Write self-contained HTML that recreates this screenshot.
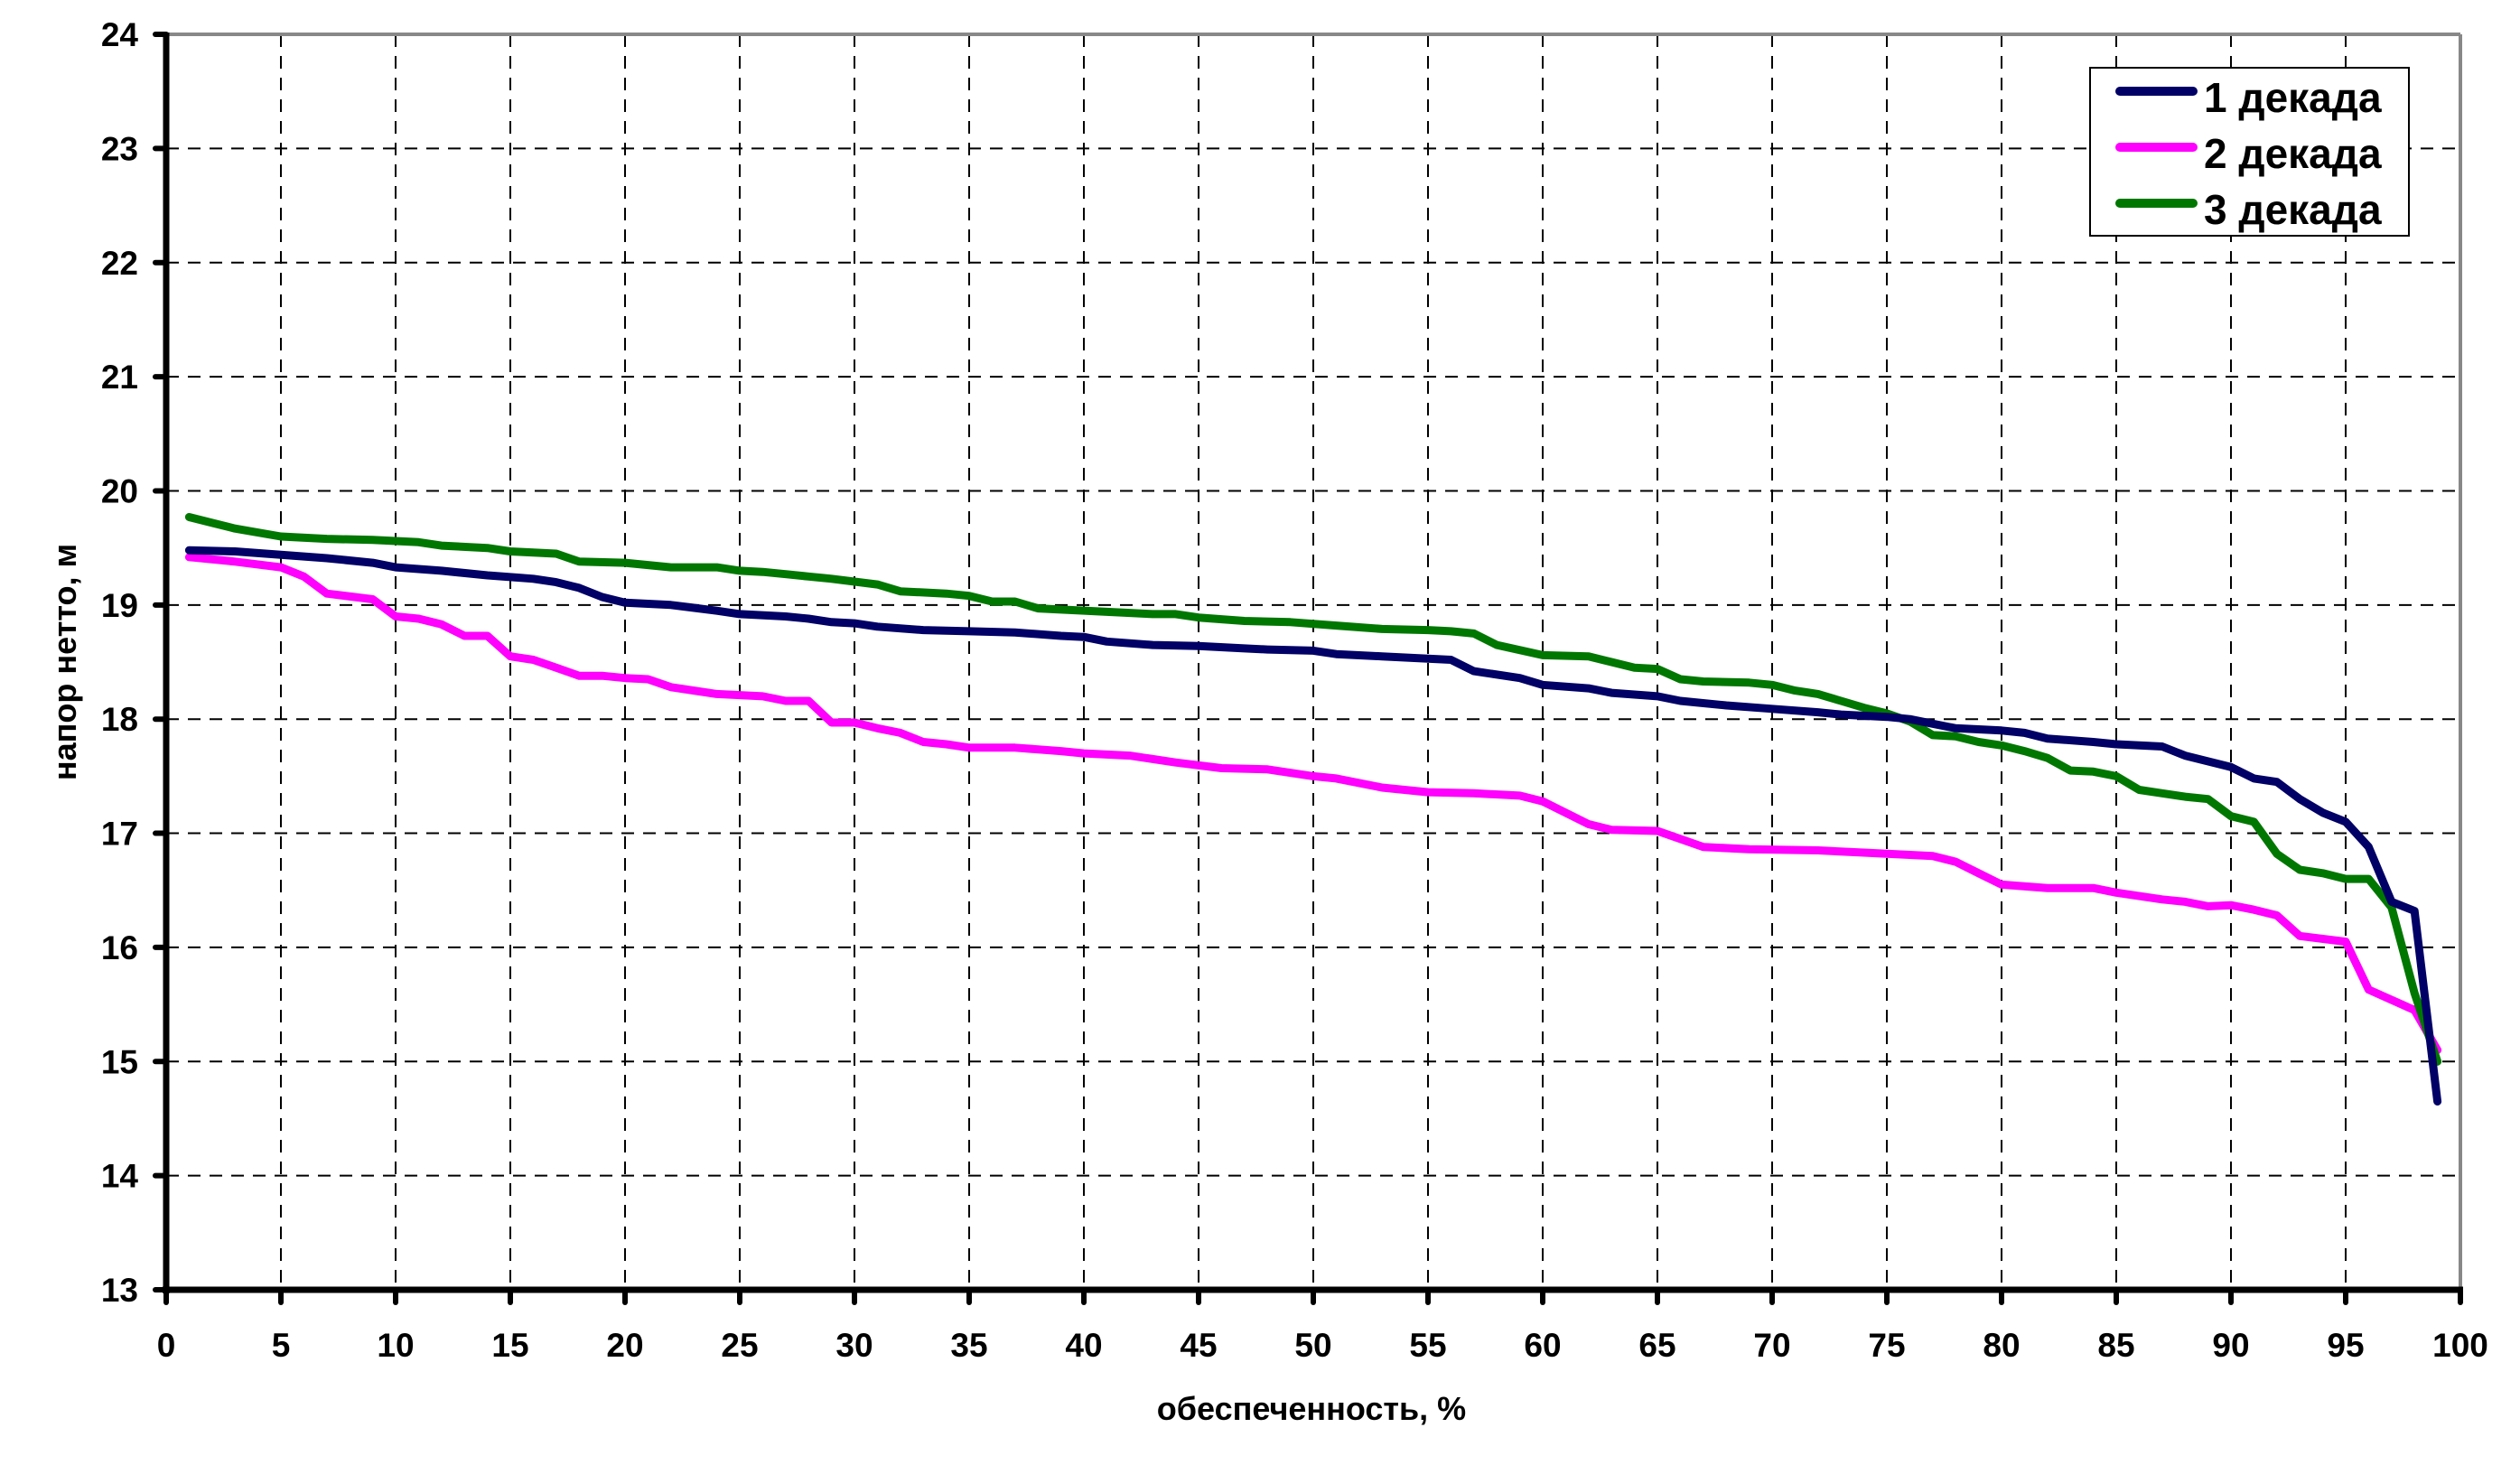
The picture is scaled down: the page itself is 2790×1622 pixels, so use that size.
<!DOCTYPE html>
<html><head><meta charset="utf-8"><style>
html,body{margin:0;padding:0;background:#fff;width:2790px;height:1622px;overflow:hidden}
text{font-family:"Liberation Sans",Arial,sans-serif;font-weight:bold;fill:#000}
</style></head><body>
<svg id="s" width="2790" height="1622" xmlns="http://www.w3.org/2000/svg">
<g id="grid"></g>
<line x1="184" y1="38" x2="2724" y2="38" stroke="#888" stroke-width="4"/>
<line x1="2724" y1="38" x2="2724" y2="1428" stroke="#888" stroke-width="4"/>
<g id="series" fill="none" stroke-width="9" stroke-linejoin="round" stroke-linecap="round"></g>
<line x1="184" y1="36" x2="184" y2="1432" stroke="#000" stroke-width="7"/>
<line x1="180" y1="1428" x2="2727" y2="1428" stroke="#000" stroke-width="7"/>
<g id="ticks"></g>
<rect x="2314" y="75" width="353" height="186" fill="#fff" stroke="#000" stroke-width="2"/>
<line x1="2347" y1="101" x2="2428" y2="101" stroke="#000066" stroke-width="10" stroke-linecap="round"/>
<line x1="2347" y1="163" x2="2428" y2="163" stroke="#ff00ff" stroke-width="10" stroke-linecap="round"/>
<line x1="2347" y1="225" x2="2428" y2="225" stroke="#007700" stroke-width="10" stroke-linecap="round"/>
<text x="2440" y="124" font-size="46">1 декада</text>
<text x="2440" y="186" font-size="46">2 декада</text>
<text x="2440" y="248" font-size="46">3 декада</text>
<text x="1452" y="1572" font-size="36" text-anchor="middle">обеспеченность, %</text>
<text transform="translate(84,733) rotate(-90)" font-size="36" text-anchor="middle">напор нетто, м</text>
</svg>
<script>
var X=function(v){return 184+v*25.4}, Y=function(v){return 1428-(v-13)*126.36};
var ns="http://www.w3.org/2000/svg";
function el(p,t,a,txt){var e=document.createElementNS(ns,t);for(var k in a)e.setAttribute(k,a[k]);if(txt!=null)e.textContent=txt;p.appendChild(e);return e}
var g=document.getElementById('grid'),tk=document.getElementById('ticks');
for(var i=5;i<100;i+=5)el(g,'line',{x1:X(i),y1:38,x2:X(i),y2:1428,stroke:'#000','stroke-width':2,'stroke-dasharray':'14 10'});
for(var v=14;v<24;v++)el(g,'line',{x1:184,y1:Y(v),x2:2724,y2:Y(v),stroke:'#000','stroke-width':2,'stroke-dasharray':'14 10'});
for(var i=0;i<=100;i+=5){el(tk,'line',{x1:X(i),y1:1428,x2:X(i),y2:1442,stroke:'#000','stroke-width':6,'stroke-linecap':'round'});
el(tk,'text',{x:X(i),y:1502,'font-size':37,'text-anchor':'middle'},String(i));}
for(var v=13;v<=24;v++){el(tk,'line',{x1:172,y1:Y(v),x2:184,y2:Y(v),stroke:'#000','stroke-width':6,'stroke-linecap':'round'});
el(tk,'text',{x:153,y:Y(v)+13,'font-size':37,'text-anchor':'end'},String(v));}
var s1=[1,19.48,3,19.47,5,19.44,7,19.41,9,19.37,10,19.33,12,19.3,14,19.26,16,19.23,17,19.2,18,19.15,19,19.07,20,19.02,22,19.0,24,18.95,25,18.92,27,18.9,28,18.88,29,18.85,30,18.84,31,18.81,33,18.78,35,18.77,37,18.76,39,18.73,40,18.72,41,18.68,43,18.65,45,18.64,47,18.62,48,18.61,50,18.6,51,18.57,53,18.55,55,18.53,56,18.52,57,18.42,59,18.36,60,18.3,62,18.27,63,18.23,65,18.2,66,18.16,68,18.12,70,18.09,72,18.06,73,18.04,75,18.02,76,18.0,77,17.96,78,17.92,80,17.9,81,17.88,82,17.83,84,17.8,85,17.78,87,17.76,88,17.68,90,17.58,91,17.48,92,17.45,93,17.3,94,17.18,95,17.1,96,16.88,97,16.4,98,16.32,99,14.65];
var s2=[1,19.42,3,19.38,5,19.33,6,19.25,7,19.1,9,19.05,10,18.9,11,18.88,12,18.83,13,18.73,14,18.73,15,18.55,16,18.52,17,18.45,18,18.38,19,18.38,20,18.36,21,18.35,22,18.28,24,18.22,26,18.2,27,18.16,28,18.16,29,17.97,30,17.97,31,17.92,32,17.88,33,17.8,34,17.78,35,17.75,37,17.75,39,17.72,40,17.7,42,17.68,44,17.62,46,17.57,48,17.56,50,17.5,51,17.48,53,17.4,55,17.36,57,17.35,59,17.33,60,17.28,62,17.08,63,17.03,65,17.02,66,16.95,67,16.88,69,16.86,72,16.85,74,16.83,75,16.82,77,16.8,78,16.75,79,16.65,80,16.55,82,16.52,84,16.52,85,16.48,86,16.45,87,16.42,88,16.4,89,16.36,90,16.37,91,16.33,92,16.28,93,16.1,95,16.05,96,15.63,98,15.45,99,15.1];
var s3=[1,19.77,2,19.72,3,19.67,5,19.6,7,19.58,9,19.57,11,19.55,12,19.52,14,19.5,15,19.47,17,19.45,18,19.38,20,19.37,21,19.35,22,19.33,24,19.33,25,19.3,26,19.29,27,19.27,28,19.25,29,19.23,31,19.18,32,19.12,34,19.1,35,19.08,36,19.03,37,19.03,38,18.97,39,18.96,41,18.94,43,18.92,44,18.92,45,18.89,47,18.86,49,18.85,51,18.82,53,18.79,55,18.78,56,18.77,57,18.75,58,18.65,60,18.56,62,18.55,63,18.5,64,18.45,65,18.44,66,18.35,67,18.33,69,18.32,70,18.3,71,18.25,72,18.22,73,18.16,74,18.1,75,18.05,76,17.98,77,17.86,78,17.85,79,17.8,80,17.77,81,17.72,82,17.66,83,17.55,84,17.54,85,17.5,86,17.38,87,17.35,88,17.32,89,17.3,90,17.15,91,17.1,92,16.82,93,16.68,94,16.65,95,16.6,96,16.6,97,16.35,98,15.6,99,15.0];
var sg=document.getElementById('series');
[[s2,'#ff00ff'],[s3,'#007700'],[s1,'#000066']].forEach(function(p){var a=p[0],pts=[];for(var i=0;i<a.length;i+=2)pts.push(X(a[i]).toFixed(1)+','+Y(a[i+1]).toFixed(1));
el(sg,'polyline',{points:pts.join(' '),stroke:p[1]});});
</script>
</body></html>
